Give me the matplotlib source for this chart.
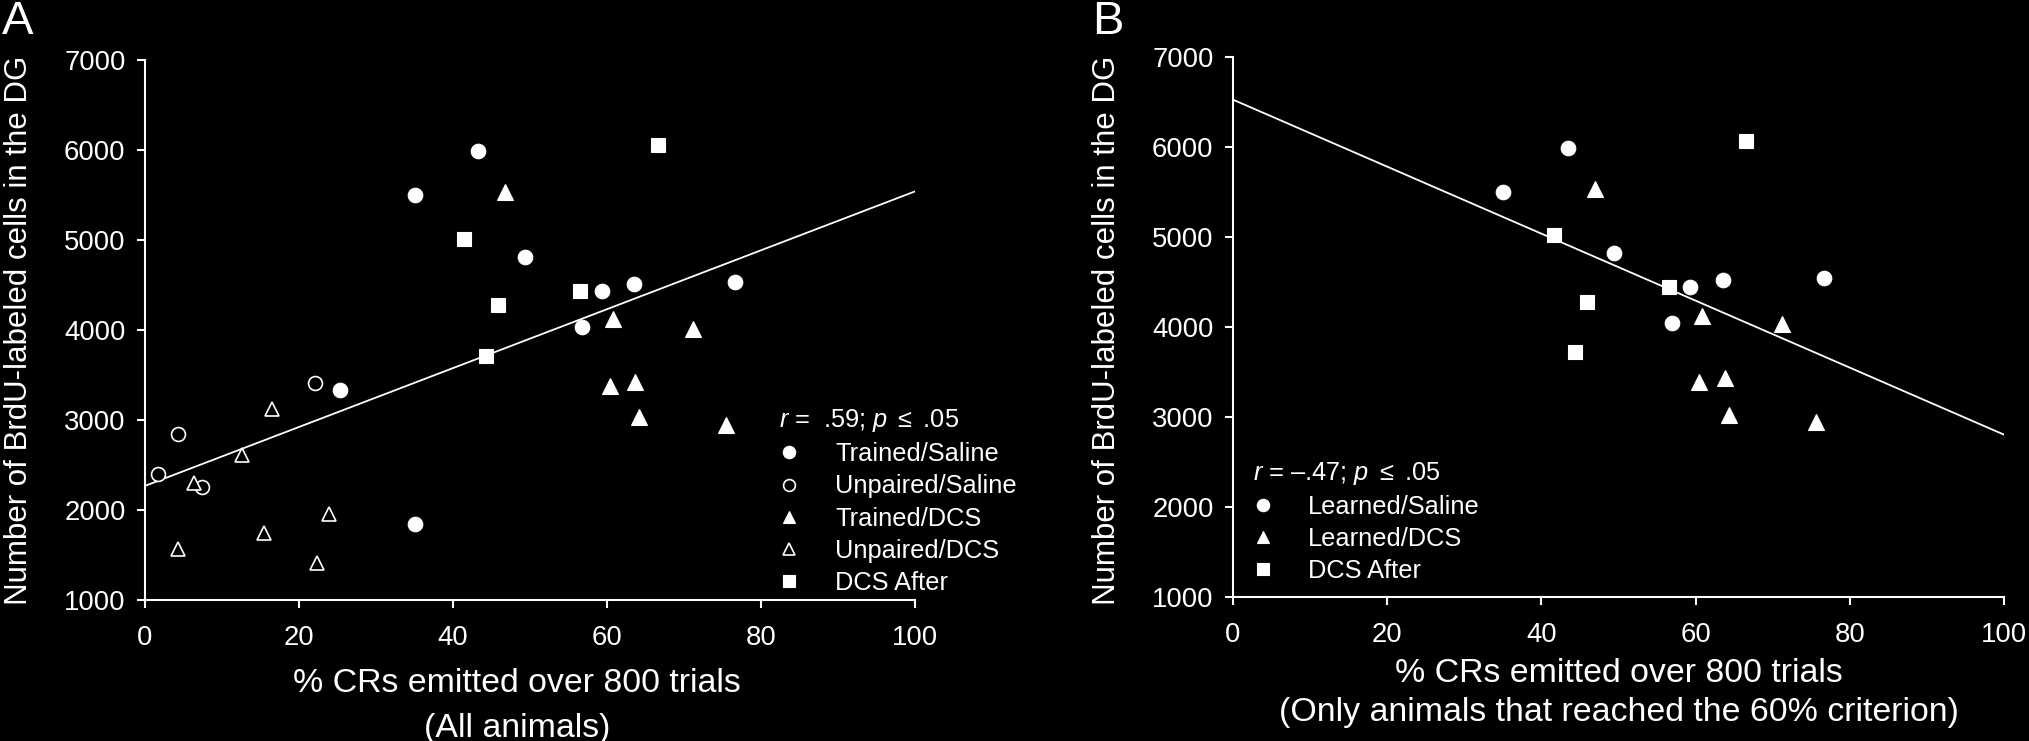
import numpy as np
import matplotlib
import matplotlib.pyplot as plt

matplotlib.use('Agg')
plt.rcParams['font.family'] = ['Liberation Sans', 'DejaVu Sans']
plt.rcParams['mathtext.fontset'] = 'custom'
plt.rcParams['mathtext.rm'] = 'Liberation Sans'
plt.rcParams['mathtext.it'] = 'Liberation Sans:italic'

# ---- panel A data (all animals) ----
a_tr_sal_x = [35.0, 43.3, 49.4, 59.3, 63.5, 56.8, 76.6, 25.3, 35.1]
a_tr_sal_y = [5500, 5990, 4816, 4438, 4515, 4030, 4535, 3330, 1850]
a_up_sal_x = [1.7, 4.3, 7.4, 22.1]
a_up_sal_y = [2400, 2850, 2257, 3414]
a_tr_dcs_x = [46.8, 60.8, 71.2, 60.4, 63.6, 64.2, 75.5]
a_tr_dcs_y = [5535, 4120, 4012, 3380, 3420, 3028, 2950]
a_up_dcs_x = [16.5, 12.6, 6.4, 23.9, 15.5, 4.3, 22.4]
a_up_dcs_y = [3125, 2608, 2300, 1961, 1750, 1566, 1410]
a_after_x = [41.4, 66.6, 56.5, 45.8, 44.3]
a_after_y = [5013, 6057, 4438, 4282, 3710]
a_fit_x = [0, 100]
a_fit_y = [2268, 5540]

# ---- panel B data (learners only) ----
b_sal_x = [35.0, 43.4, 49.4, 59.3, 63.6, 76.7, 56.9]
b_sal_y = [5500, 5993, 4822, 4444, 4526, 4544, 4044]
b_dcs_x = [46.9, 60.8, 71.2, 60.4, 63.8, 64.3, 75.6]
b_dcs_y = [5530, 4120, 4030, 3389, 3437, 3026, 2945]
b_after_x = [66.5, 41.6, 56.6, 45.9, 44.4]
b_after_y = [6063, 5026, 4444, 4278, 3722]
b_fit_x = [0, 100]
b_fit_y = [6526, 2804]

x_ticks = [0, 20, 40, 60, 80, 100]
y_ticks = [1000, 2000, 3000, 4000, 5000, 6000, 7000]

FG = 'white'
BG = 'black'

filled_circle = dict(marker='o', ms=10.5, mfc=FG, mec=FG, mew=0.8, ls='none')
open_circle = dict(marker='o', ms=10, mfc=BG, mec=FG, mew=1.2, ls='none')
filled_tri = dict(marker='^', ms=11, mfc=FG, mec=FG, mew=0.8, ls='none')
open_tri = dict(marker='^', ms=10.5, mfc=BG, mec=FG, mew=1.2, ls='none')
filled_sq = dict(marker='s', ms=9.5, mfc=FG, mec=FG, mew=0.8, ls='none')


def style_axes(ax):
    ax.set_facecolor(BG)
    for side in ['top', 'right']:
        ax.spines[side].set_visible(False)
    for side in ['left', 'bottom']:
        ax.spines[side].set_color(FG)
        ax.spines[side].set_linewidth(1.5)
    ax.set_xlim(0, 100)
    ax.set_ylim(1000, 7000)
    ax.set_xticks(x_ticks)
    ax.set_yticks(y_ticks)
    ax.tick_params(colors=FG, direction='out', length=6, width=1.5,
                   labelsize=19.8, pad=8)
    ax.tick_params(axis='x', pad=12)


def white_legend(leg):
    leg._legend_box.align = 'left'
    for t in leg.get_texts():
        t.set_color(FG)
    leg.get_title().set_color(FG)


fig = plt.figure(figsize=(20.29, 7.41), dpi=100, facecolor=BG)

# Panel A
ax1 = fig.add_axes([145 / 2029, 1 - 600 / 741, 770 / 2029, 540 / 741])
style_axes(ax1)
ax1.plot(a_fit_x, a_fit_y, '-', color=FG, lw=1.3, zorder=2)
h1, = ax1.plot(a_tr_sal_x, a_tr_sal_y, clip_on=False, zorder=3, **filled_circle)
h2, = ax1.plot(a_up_sal_x, a_up_sal_y, clip_on=False, zorder=3, **open_circle)
h3, = ax1.plot(a_tr_dcs_x, a_tr_dcs_y, clip_on=False, zorder=3, **filled_tri)
h4, = ax1.plot(a_up_dcs_x, a_up_dcs_y, clip_on=False, zorder=3, **open_tri)
h5, = ax1.plot(a_after_x, a_after_y, clip_on=False, zorder=3, **filled_sq)

leg1 = ax1.legend([h1, h2, h3, h4, h5],
                  ['Trained/Saline', 'Unpaired/Saline', 'Trained/DCS',
                   'Unpaired/DCS', 'DCS After'],
                  title=r'$\it{r}$ =  .59; $\it{p}$ $\leq$ .05',
                  loc='upper left', bbox_to_anchor=(0.823, 0.357),
                  frameon=False, fontsize=18.3, title_fontsize=18.3,
                  handlelength=0.8, handletextpad=1.42, labelspacing=0.32,
                  borderpad=0, borderaxespad=0, markerscale=0.85)
white_legend(leg1)

# Panel B
ax2 = fig.add_axes([1233 / 2029, 1 - 597 / 741, 771 / 2029, 540 / 741])
style_axes(ax2)
ax2.plot(b_fit_x, b_fit_y, '-', color=FG, lw=1.3, zorder=2)
g1, = ax2.plot(b_sal_x, b_sal_y, clip_on=False, zorder=3, **filled_circle)
g2, = ax2.plot(b_dcs_x, b_dcs_y, clip_on=False, zorder=3, **filled_tri)
g3, = ax2.plot(b_after_x, b_after_y, clip_on=False, zorder=3, **filled_sq)

leg2 = ax2.legend([g1, g2, g3],
                  ['Learned/Saline', 'Learned/DCS', 'DCS After'],
                  title='$\\it{r}$ = \u2013.47; $\\it{p}$ $\\leq$ .05',
                  loc='upper left', bbox_to_anchor=(0.026, 0.254),
                  frameon=False, fontsize=18.3, title_fontsize=18.3,
                  handlelength=0.8, handletextpad=1.37, labelspacing=0.32,
                  borderpad=0, borderaxespad=0, markerscale=0.85)
white_legend(leg2)

# axis labels
W, H = 2029, 741
fig.text(517 / W, 1 - 684 / H, '% CRs emitted over 800 trials',
         color=FG, fontsize=24.4, ha='center', va='center')
fig.text(517 / W, 1 - 728 / H, '(All animals)',
         color=FG, fontsize=24.4, ha='center', va='center')
fig.text(1619 / W, 1 - 674 / H, '% CRs emitted over 800 trials',
         color=FG, fontsize=24.4, ha='center', va='center')
fig.text(1619 / W, 1 - 713 / H,
         '(Only animals that reached the 60% criterion)',
         color=FG, fontsize=24.4, ha='center', va='center')
fig.text(19 / W, 1 - 330 / H, 'Number of BrdU-labeled cells in the DG',
         color=FG, fontsize=22.5, rotation=90, ha='center', va='center')
fig.text(1107 / W, 1 - 330 / H, 'Number of BrdU-labeled cells in the DG',
         color=FG, fontsize=22.5, rotation=90, ha='center', va='center')

# panel letters
fig.text(2 / W, 1 - 0 / H, 'A', color=FG, fontsize=34, ha='left', va='top')
fig.text(1092 / W, 1 - 0 / H, 'B', color=FG, fontsize=34, ha='left', va='top')

plt.savefig('out.png', dpi=100, facecolor=BG)
plt.close()
